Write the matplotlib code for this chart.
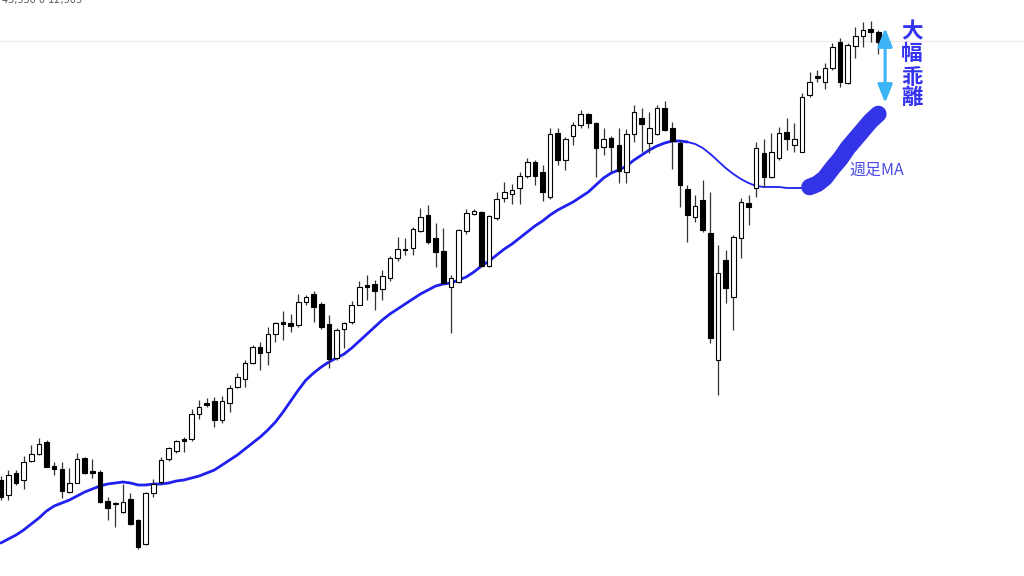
import matplotlib
matplotlib.use("Agg")
import matplotlib.pyplot as plt
import numpy as np

# weekly candles (arbitrary price units)
opens = [96, 81, 103, 96, 115, 122, 134, 110, 107, 84, 93, 118, 105, 104, 75, 72, 64, 77, 56, 32,
         83, 94, 117, 125, 137, 137, 162, 173, 175, 156, 173, 189, 197, 213, 229, 224, 242, 254, 253, 251,
         274, 282, 272, 252, 218, 247, 254, 271, 291, 292, 287, 298, 318, 327, 328, 345, 361, 338, 325, 289,
         294, 345, 362, 364, 310, 358, 378, 382, 388, 400, 414, 404, 379, 443, 416, 440, 451, 462, 453, 429,
         438, 431, 404, 442, 458, 433, 442, 468, 448, 433, 387, 359, 376, 343, 216, 316, 279, 338, 373, 388,
         423, 399, 418, 444, 431, 424, 481, 500, 494, 508, 534, 493, 530, 540, 547, 544]
highs = [100, 106, 106, 120, 131, 138, 136, 114, 114, 108, 123, 119, 117, 106, 79, 74, 92, 83, 57, 84,
         97, 119, 129, 136, 139, 167, 176, 178, 179, 180, 191, 203, 216, 231, 234, 249, 254, 265, 262, 282,
         281, 285, 274, 261, 248, 254, 275, 295, 301, 296, 306, 320, 339, 338, 349, 368, 371, 353, 348, 301,
         347, 367, 367, 365, 361, 384, 394, 392, 404, 418, 416, 411, 448, 448, 439, 454, 466, 463, 454, 448,
         440, 448, 447, 471, 468, 464, 471, 475, 454, 436, 391, 381, 396, 384, 331, 326, 341, 378, 381, 434,
         437, 443, 449, 458, 453, 483, 504, 506, 513, 533, 538, 533, 549, 554, 555, 546]
lows = [76, 76, 91, 87, 114, 121, 109, 101, 78, 83, 93, 102, 98, 73, 56, 49, 63, 51, 27, 31,
        79, 92, 115, 123, 124, 135, 157, 169, 149, 153, 164, 188, 189, 212, 206, 211, 234, 236, 244, 249,
        271, 254, 247, 208, 216, 228, 252, 271, 276, 266, 276, 295, 315, 321, 321, 344, 332, 309, 292, 243,
        293, 342, 361, 309, 309, 356, 374, 372, 372, 398, 391, 375, 377, 411, 406, 431, 448, 448, 399, 421,
        404, 393, 393, 434, 424, 423, 441, 445, 407, 369, 334, 354, 344, 233, 181, 273, 246, 318, 351, 379,
        389, 398, 416, 426, 424, 424, 479, 494, 487, 506, 489, 492, 518, 529, 534, 522]
closes = [79, 101, 93, 114, 122, 132, 109, 107, 85, 93, 117, 103, 103, 74, 68, 73, 74, 52, 29, 83,
          92, 116, 128, 135, 135, 162, 169, 171, 156, 175, 188, 199, 213, 229, 223, 242, 253, 252, 250, 274,
          279, 269, 249, 217, 246, 253, 271, 289, 289, 285, 300, 318, 327, 326, 347, 359, 334, 324, 293, 298,
          346, 363, 365, 310, 360, 377, 384, 386, 400, 414, 400, 384, 442, 416, 437, 451, 462, 453, 428, 437,
          429, 405, 442, 464, 452, 448, 468, 446, 435, 391, 361, 370, 346, 238, 303, 288, 339, 374, 369, 428,
          399, 424, 443, 437, 437, 479, 494, 498, 508, 529, 494, 531, 540, 546, 544, 534]

# weekly moving average, one value per candle
ma = [33, 37, 41, 46, 52, 58, 65, 70, 73, 76, 80, 84, 87, 90, 92, 93, 94, 93, 91, 91,
      92, 92, 93, 95, 96, 98, 100, 103, 106, 111, 116, 121, 127, 133, 139, 146, 154, 164, 175, 186,
      196, 203, 209, 214, 218, 222, 228, 235, 242, 249, 256, 262, 267, 272, 277, 282, 286, 290, 292, 293,
      296, 299, 304, 310, 315, 321, 327, 332, 338, 344, 350, 355, 361, 366, 370, 374, 379, 384, 391, 398,
      403, 406, 410, 416, 421, 426, 430, 433, 435, 435, 434, 432, 428, 422, 415, 408, 402, 397, 393, 390,
      389, 389, 389, 388, 388, 388, 389, 392, 398, 408, 417, 428, 437, 446, 455, 462]

ref_level = 535          # faint horizontal price line at the top
hl_start = 106           # start of the hand-drawn highlight on the MA

o, h, l, c = map(np.array, (opens, highs, lows, closes))
idx = np.arange(len(o))
up = c >= o

fig = plt.figure(figsize=(10.24, 5.76), dpi=100)
ax = fig.add_axes([0, 0, 1, 1])
ax.set_xlim(-0.1, 134.1)
ax.set_ylim(0, 576)
ax.axis("off")

ax.axhline(ref_level, color="#f3e6e6", lw=0.8, zorder=0)

# MA line (thicker on the left part, thinner after the top)
ax.plot(idx[:91], ma[:91], color="#2020f0", lw=2.0, zorder=1,
        solid_capstyle="round", solid_joinstyle="round")
ax.plot(idx[90:hl_start + 1], ma[90:hl_start + 1], color="#2020f0", lw=1.3, zorder=1,
        solid_joinstyle="round")

# candles
ax.vlines(idx, l, h, color="#333333", lw=0.9, zorder=2)
bottom = np.minimum(o, c)
height = np.maximum(np.abs(c - o), 1.2)
ax.bar(idx, height, bottom=bottom, width=0.6, color=np.where(up, "white", "black"),
       edgecolor="black", linewidth=0.8, zorder=3)

# highlighted end of the MA
ax.plot(idx[hl_start:], ma[hl_start:], color="#3333e8", lw=12, solid_capstyle="round",
        solid_joinstyle="round", zorder=4)

# divergence arrow + labels
ax.annotate("", xy=(115.9, 548), xytext=(115.9, 473),
            arrowprops=dict(arrowstyle="<|-|>,head_length=0.55,head_width=0.22",
                            color="#3cb4f5", lw=2.2, mutation_scale=20, shrinkA=0, shrinkB=0),
            zorder=5)
for ch, yv in zip("大幅乖離", [544, 522, 499, 478]):
    ax.text(119.4, yv, ch, ha="center", va="center", fontsize=15.5, fontweight="bold",
            color="#3434f0", family=["Noto Sans CJK JP", "DejaVu Sans"], zorder=6)
ax.text(114.85, 406, "週足MA", ha="center", va="center", fontsize=11.5, color="#4b4be6",
        family=["Noto Sans CJK JP", "DejaVu Sans"], zorder=6)

fig.text(0.002, 1.0, "43,930 0 12,905", fontsize=7, color="#555555", va="center", ha="left")

fig.savefig("out.png", dpi=100, facecolor="white")
